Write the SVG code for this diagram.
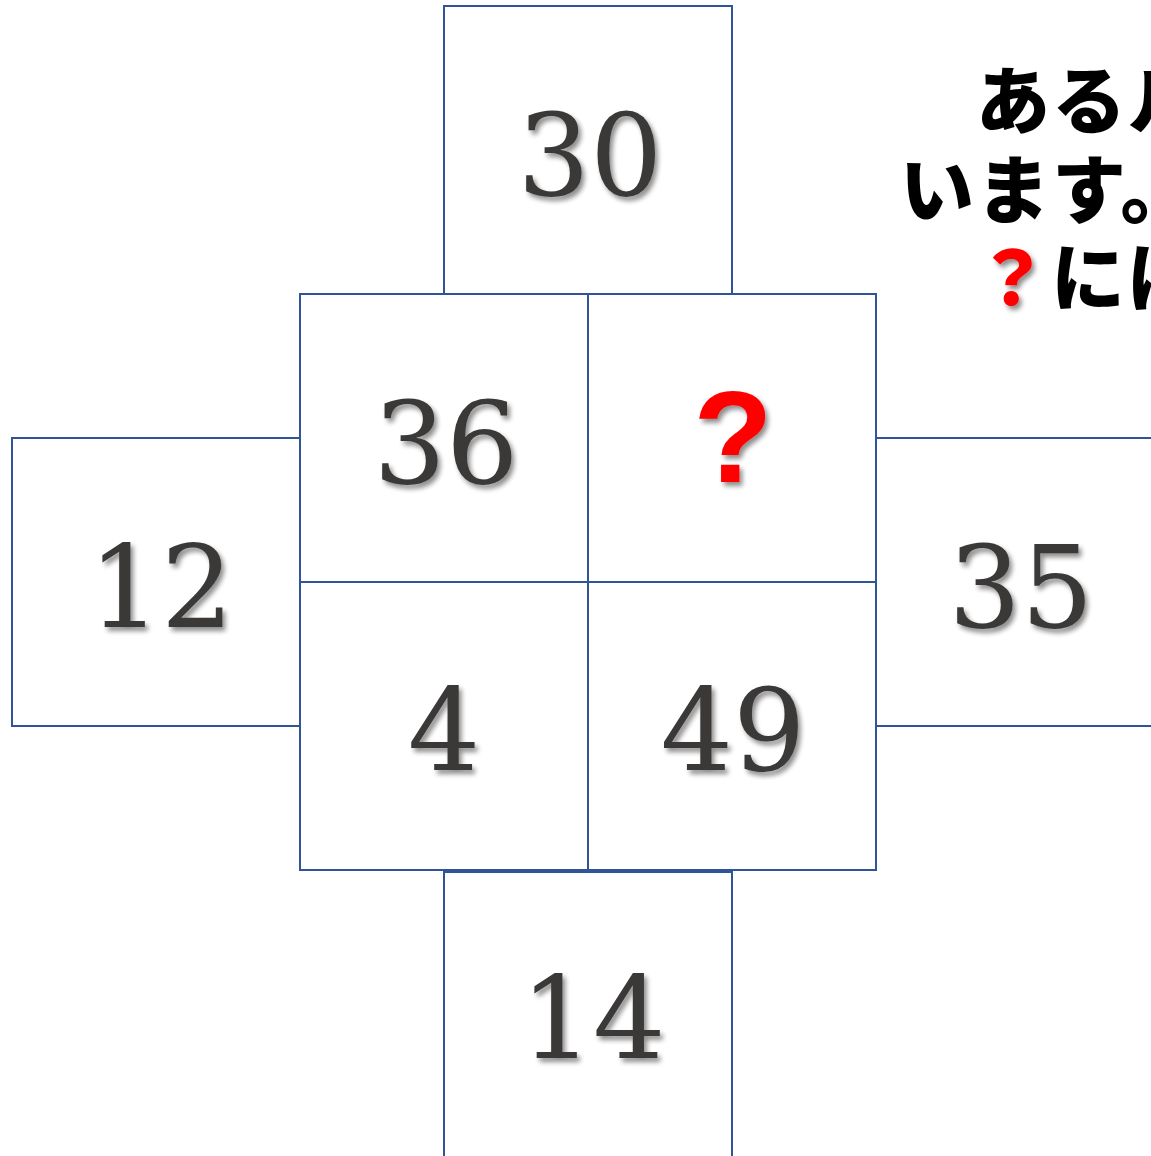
<svg xmlns="http://www.w3.org/2000/svg" width="1151" height="1156" viewBox="0 0 1151 1156">
<defs>
<filter id="sh" x="-20%" y="-20%" width="150%" height="150%">
<feGaussianBlur in="SourceAlpha" stdDeviation="2.5"/>
<feOffset dx="3" dy="4" result="b"/>
<feComponentTransfer in="b" result="c"><feFuncA type="linear" slope="0.45"/></feComponentTransfer>
<feMerge><feMergeNode in="c"/><feMergeNode in="SourceGraphic"/></feMerge>
</filter>
<style>
.box{fill:#fff;stroke:#2f5597;stroke-width:2}
.num{font-family:"DejaVu Serif","Liberation Serif",serif;font-size:114px;fill:#3b3838;text-anchor:middle;filter:url(#sh)}
.q{font-family:"Liberation Sans","Arial",sans-serif;font-weight:bold;font-size:130px;fill:#ff0000;text-anchor:middle;filter:url(#sh)}
.jp{font-family:"Noto Sans CJK JP",sans-serif;font-weight:900;font-size:74px;letter-spacing:2px;fill:#000}
</style>
</defs>
<g id="box-top"><rect class="box" x="444" y="6" width="288" height="288"/><text class="num" x="590" y="195">30</text></g>
<g id="box-left"><rect class="box" x="12" y="438" width="288" height="288"/><text class="num" x="161" y="627">12</text></g>
<g id="box-right"><rect class="box" x="876" y="438" width="300" height="288"/><text class="num" x="1021" y="627">35</text></g>
<g id="box-bottom"><rect class="box" x="444" y="872" width="288" height="300"/><text class="num" x="593" y="1058">14</text></g>
<g id="cell-36"><rect class="box" x="300" y="294" width="288" height="288"/><text class="num" x="446" y="483">36</text></g>
<g id="cell-q"><rect class="box" x="588" y="294" width="288" height="288"/><text class="q" x="733" y="482">?</text></g>
<g id="cell-4"><rect class="box" x="300" y="582" width="288" height="288"/><text class="num" x="444" y="770">4</text></g>
<g id="cell-49"><rect class="box" x="588" y="582" width="288" height="288"/><text class="num" x="733" y="770">49</text></g>
<g id="caption">
<text class="jp" x="976" y="128">あるル</text>
<text class="jp" x="900" y="217">います。</text>
<text class="jp" x="975" y="305"><tspan fill="#ff0000" style="filter:url(#sh)">？</tspan>には</text>
</g>
</svg>
